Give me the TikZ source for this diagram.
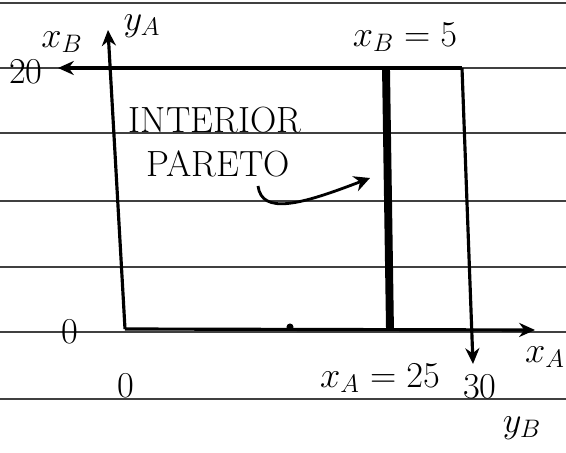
\documentclass[tikz,border=0pt]{standalone}
\usepackage{tikz}
\usetikzlibrary{arrows.meta,positioning,calc}

\begin{document}
\begin{tikzpicture}[x=0.02cm, y=-0.02cm,
    rule/.style={draw=black!75, line width=0.6pt},
    edge/.style={line width=1.8pt},
    axis/.style={-{Stealth[length=9pt,width=8pt]}, line width=1.8pt},
    lab/.style={font=\huge, inner sep=1pt}
]
\useasboundingbox (0,0) rectangle (566,453);
% ruled paper
\foreach \y in {3,68,133,201,267,332,399}
  \draw[rule] (0,\y) -- (566,\y);
% corners of the box
\coordinate (oA) at (125,329);
\coordinate (oB) at (462,68);
\coordinate (yAtip) at (108,30);
\coordinate (xAtip) at (535,330);
\coordinate (xBtip) at (58,68);
\coordinate (yBtip) at (473,364);
\coordinate (pTop) at (386,68);
\coordinate (pBot) at (390,330);
\coordinate (arrStart) at (258,186);
\coordinate (arrEnd) at (370,178);
% axes
\draw[axis] (oA) -- (yAtip);
\draw[axis] (oA) -- (xAtip);
\draw[axis] (oB) -- (xBtip);
\draw[axis] (oB) -- (yBtip);
% pareto set
\draw[line width=4.5pt] (pTop) -- (pBot);
\fill (290,327) circle (2pt);
\draw[-{Stealth[length=9pt,width=9pt]}, line width=1.6pt] (arrStart) .. controls (262,215) and (300,205) .. (arrEnd);
% labels
\node[lab] (lxB) at (62,42) {$x_B$};
\node[lab] (lyA) at (142,26) {$y_A$};
\node[lab] (l20) at (26,72) {20};
\node[lab] (lxB5) at (405,37) {$x_B=5$};
\node[lab] (lint) at (215,120) {INTERIOR};
\node[lab] (lpar) at (218,164) {PARETO};
\node[lab] (l0y) at (70,332) {0};
\node[lab] (l0x) at (126,386) {0};
\node[lab] (lxA25) at (380,378) {$x_A=25$};
\node[lab] (l30) at (480,387) {30};
\node[lab] (lxA) at (545,357) {$x_A$};
\node[lab] (lyB) at (522,428) {$y_B$};
\end{tikzpicture}
\end{document}
